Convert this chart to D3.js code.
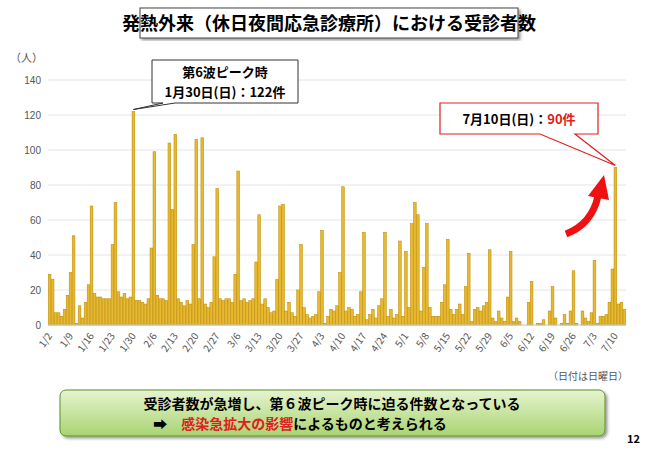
<!DOCTYPE html>
<html><head><meta charset="utf-8">
<script src="https://cdn.jsdelivr.net/npm/d3@7"></script>
<style>body{margin:0;background:#fff;font-family:"Noto Sans CJK JP","Noto Sans",sans-serif}</style>
</head><body>
<script>
// daily counts from 1/2 (Sun) onward, one row per week
var counts = [
  29,26,7,7,5,9,17,
  30,51,1,11,4,13,23,
  68,18,16,16,15,15,15,
  46,70,19,16,18,15,16,
  122,14,14,13,12,15,44,
  99,17,15,15,14,104,66,
  109,15,13,11,14,12,46,
  106,15,107,12,10,13,39,
  78,15,14,15,15,13,29,
  88,14,15,13,14,15,36,
  63,12,15,10,7,8,26,
  68,69,8,13,7,5,20,
  46,10,6,4,5,6,19,
  54,1,5,9,8,11,30,
  79,8,10,9,5,6,19,
  53,3,6,9,4,11,15,
  53,5,9,4,6,48,5,
  42,10,58,70,63,8,33,
  58,10,5,5,5,13,23,
  49,9,6,9,12,6,22,
  41,2,9,10,8,11,13,
  43,4,2,8,4,2,16,
  42,2,4,2,0,0,13,
  25,0,1,1,3,0,8,
  22,4,0,1,6,1,8,
  31,1,0,8,4,2,7,
  37,1,5,5,6,13,32,
  90,12,13,9
];
var startDate = new Date(2022, 0, 2);
var yTicks = [0,20,40,60,80,100,120,140];

var W = 650, H = 449;
var svg = d3.select("body").append("svg").attr("width", W).attr("height", H);

var fmt = function(d){ return (d.getMonth()+1) + "/" + d.getDate(); };
var days = counts.map(function(v, i){
  var d = new Date(startDate); d.setDate(d.getDate() + i);
  return {date: d, label: fmt(d), value: v, i: i};
});

var x = d3.scaleBand().domain(days.map(function(d){ return d.i; })).range([48, 626]).padding(0.08);
var y = d3.scaleLinear().domain([0, 140]).range([325, 80]);

// grid
svg.append("g").selectAll("line").data(yTicks).enter().append("line")
  .attr("x1", 48).attr("x2", 626)
  .attr("y1", function(d){ return y(d); }).attr("y2", function(d){ return y(d); })
  .attr("stroke", "#e4e4e4");

var yAxis = svg.append("g").attr("transform", "translate(44,0)")
  .call(d3.axisLeft(y).tickValues(yTicks).tickSize(0));
yAxis.select(".domain").remove();
yAxis.selectAll("text").attr("font-size", 10).attr("fill", "#555");
svg.append("text").attr("x", 10).attr("y", 62).attr("font-size", 11).attr("fill", "#555").text("（人）");

svg.append("g").selectAll("rect").data(days).enter().append("rect")
  .attr("x", function(d){ return x(d.i); })
  .attr("width", x.bandwidth())
  .attr("y", function(d){ return y(d.value); })
  .attr("height", function(d){ return y(0) - y(d.value); })
  .attr("fill", "#e8b830").attr("stroke", "#b88a00").attr("stroke-width", 0.5);

svg.append("line").attr("x1", 48).attr("x2", 626).attr("y1", y(0)).attr("y2", y(0)).attr("stroke", "#ccc");

// weekly x labels (Sundays)
var sundays = days.filter(function(d){ return d.i % 7 === 0; });
svg.append("g").selectAll("text").data(sundays).enter().append("text")
  .attr("transform", function(d){ return "translate(" + (x(d.i) + x.bandwidth()/2 + 3) + "," + 336 + ") rotate(-55)"; })
  .attr("text-anchor", "end").attr("font-size", 10).attr("fill", "#555")
  .text(function(d){ return d.label; });
svg.append("text").attr("x", 628).attr("y", 380).attr("text-anchor", "end")
  .attr("font-size", 10).attr("fill", "#555").text("（日付は日曜日）");

// title
var defs = svg.append("defs");
var f = defs.append("filter").attr("id", "sh");
f.append("feDropShadow").attr("dx", 2).attr("dy", 2).attr("stdDeviation", 1.5).attr("flood-opacity", 0.4);
svg.append("rect").attr("x", 140).attr("y", 8).attr("width", 378).attr("height", 30)
  .attr("fill", "#fff").attr("stroke", "#444").attr("filter", "url(#sh)");
svg.append("text").attr("x", 329).attr("y", 30).attr("text-anchor", "middle")
  .attr("font-size", 18).attr("font-weight", "bold").text("発熱外来（休日夜間応急診療所）における受診者数");

// callout 1 (peak)
var peak = days[28];
var px = x(peak.i) + x.bandwidth()/2, py = y(peak.value);
svg.append("path").attr("d", "M152,60 H298 V103 H175 L" + px + "," + (py - 2) + " L163,103 H152 Z")
  .attr("fill", "#fff").attr("stroke", "#333").attr("stroke-width", 1);
svg.append("text").attr("x", 225).attr("y", 77).attr("text-anchor", "middle").attr("font-size", 13).attr("font-weight", "bold").text("第6波ピーク時");
svg.append("text").attr("x", 225).attr("y", 97).attr("text-anchor", "middle").attr("font-size", 13).attr("font-weight", "bold").text("1月30日(日)：122件");

// callout 2 (latest)
var last = days[189];
var lx = x(last.i) + x.bandwidth()/2, ly = y(last.value);
svg.append("path").attr("d", "M440,103 H598 V134 H575 L" + lx + "," + (ly - 2) + " L540,134 H440 Z")
  .attr("fill", "#fff").attr("stroke", "#e02020").attr("stroke-width", 1.2);
var t2 = svg.append("text").attr("x", 519).attr("y", 124).attr("text-anchor", "middle").attr("font-size", 13).attr("font-weight", "bold");
t2.append("tspan").text("7月10日(日)：");
t2.append("tspan").attr("fill", "#e02020").text("90件");

// red arrow
svg.append("path").attr("d", "M566,234 Q592,224 598,196").attr("fill", "none").attr("stroke", "#ee1111").attr("stroke-width", 7);
svg.append("path").attr("d", "M588,196 L604,175 L609,200 Z").attr("fill", "#ee1111");

// bottom message
var g = defs.append("linearGradient").attr("id", "gr").attr("x1", 0).attr("y1", 0).attr("x2", 0).attr("y2", 1);
g.append("stop").attr("offset", "0").attr("stop-color", "#e6f3d0");
g.append("stop").attr("offset", "1").attr("stop-color", "#a9d471");
svg.append("rect").attr("x", 60).attr("y", 390).attr("width", 545).attr("height", 46).attr("rx", 6)
  .attr("fill", "url(#gr)").attr("stroke", "#5a8f2a").attr("filter", "url(#sh)");
svg.append("text").attr("x", 332).attr("y", 409).attr("text-anchor", "middle").attr("font-size", 14).attr("font-weight", "bold")
  .text("受診者数が急増し、第６波ピーク時に迫る件数となっている");
var t3 = svg.append("text").attr("x", 300).attr("y", 429).attr("text-anchor", "middle").attr("font-size", 14).attr("font-weight", "bold");
t3.append("tspan").text("➡　");
t3.append("tspan").attr("fill", "#e02020").text("感染急拡大の影響");
t3.append("tspan").text("によるものと考えられる");
svg.append("text").attr("x", 640).attr("y", 443).attr("text-anchor", "end").attr("font-size", 11).attr("font-weight", "bold").text("12");
</script>
</body></html>
